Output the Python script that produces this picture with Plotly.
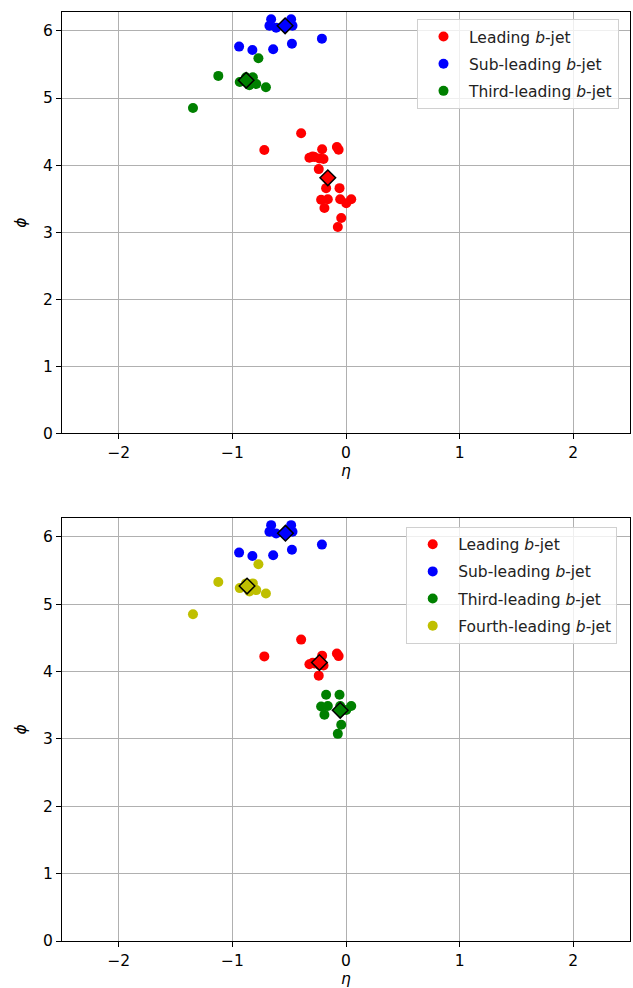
"""Eta-phi positions of b-jets: three-jet assignment (top) vs four-jet (bottom)."""

import plotly.graph_objects as go

# upper cluster (leading b-jet in both panels)
lead_eta = [-0.395, -0.719, -0.21, -0.08, -0.065, -0.322, -0.278, -0.234, -0.198, -0.293, -0.24]
lead_phi = [4.475, 4.226, 4.237, 4.27, 4.23, 4.11, 4.12, 4.10, 4.09, 4.13, 3.94]

# lower red cluster (part of the leading jet on top, third-leading on the bottom)
low_eta = [-0.175, -0.057, -0.219, -0.16, -0.051, 0.046, 0.002, -0.19, -0.042, -0.072]
low_phi = [3.656, 3.656, 3.482, 3.49, 3.49, 3.49, 3.43, 3.36, 3.21, 3.076]

sub_eta = [-0.659, -0.674, -0.483, -0.471, -0.615, -0.212, -0.941, -0.824, -0.641, -0.476]
sub_phi = [6.175, 6.077, 6.175, 6.077, 6.05, 5.886, 5.767, 5.717, 5.727, 5.81]

# third-leading on top, fourth-leading on the bottom
far_eta = [-0.771, -1.124, -1.347, -0.935, -0.88, -0.82, -0.79, -0.85, -0.705]
far_phi = [5.593, 5.33, 4.851, 5.24, 5.31, 5.31, 5.21, 5.19, 5.16]

# diamond markers (cluster centres)
top_ctr_eta = [-0.16, -0.536, -0.879]
top_ctr_phi = [3.81, 6.077, 5.265]
bot_ctr_eta = [-0.234, -0.533, -0.051, -0.871]
bot_ctr_phi = [4.134, 6.055, 3.425, 5.27]

RED, BLUE, GREEN, YELLOW = "#ff0000", "#0000ff", "#008000", "#bfbf00"
FONT = "DejaVu Sans"

fig = go.Figure()


def dots(x, y, color, name, xa, ya, legend):
    fig.add_trace(go.Scatter(
        x=x, y=y, mode="markers", name=name, xaxis=xa, yaxis=ya,
        legend=legend, legendgroup=f"{legend}-{name}",
        marker=dict(color=color, size=10, line=dict(width=0)),
    ))


def diamonds(x, y, colors, xa, ya):
    fig.add_trace(go.Scatter(
        x=x, y=y, mode="markers", xaxis=xa, yaxis=ya, showlegend=False,
        marker=dict(symbol="diamond", color=colors, size=12,
                    line=dict(color="black", width=1.5)),
    ))


# top panel
dots(lead_eta + low_eta, lead_phi + low_phi, RED, "Leading <i>b</i>-jet", "x", "y", "legend")
dots(sub_eta, sub_phi, BLUE, "Sub-leading <i>b</i>-jet", "x", "y", "legend")
dots(far_eta, far_phi, GREEN, "Third-leading <i>b</i>-jet", "x", "y", "legend")
diamonds(top_ctr_eta, top_ctr_phi, [RED, BLUE, GREEN], "x", "y")

# bottom panel
dots(lead_eta, lead_phi, RED, "Leading <i>b</i>-jet", "x2", "y2", "legend2")
dots(sub_eta, sub_phi, BLUE, "Sub-leading <i>b</i>-jet", "x2", "y2", "legend2")
dots(low_eta, low_phi, GREEN, "Third-leading <i>b</i>-jet", "x2", "y2", "legend2")
dots(far_eta, far_phi, YELLOW, "Fourth-leading <i>b</i>-jet", "x2", "y2", "legend2")
diamonds(bot_ctr_eta, bot_ctr_phi, [RED, BLUE, GREEN, YELLOW], "x2", "y2")

axis_common = dict(
    showline=True, mirror=True, linecolor="black", linewidth=1.2,
    showgrid=True, gridcolor="#b0b0b0", gridwidth=1, zeroline=False,
    ticks="outside", ticklen=5, tickcolor="black",
    tickfont=dict(family=FONT, size=15.5, color="black"),
)
xax = dict(axis_common, range=[-2.5, 2.5], tickvals=[-2, -1, 0, 1, 2],
           ticktext=["\u22122", "\u22121", "0", "1", "2"],
           title=dict(text="<i>\u03b7</i>", font=dict(family=FONT, size=15.5), standoff=4))
yax = dict(axis_common, range=[0, 6.2832], tickvals=[0, 1, 2, 3, 4, 5, 6],
           title=dict(text="<i>\u03d5</i>", font=dict(family=FONT, size=15.5), standoff=12))

legend_common = dict(
    bgcolor="rgba(255,255,255,0.8)", bordercolor="#d0d0d0", borderwidth=1,
    font=dict(family=FONT, size=15.5, color="#222222"),
    xanchor="left", yanchor="top", itemwidth=41, tracegroupgap=4,
)

fig.update_layout(
    width=633, height=988,
    margin=dict(l=62, r=3, t=12, b=47),
    paper_bgcolor="white", plot_bgcolor="white",
    font=dict(family=FONT, size=15.5, color="black"),
    xaxis=dict(xax, domain=[0, 1], anchor="y"),
    yaxis=dict(yax, domain=[0.5465, 1], anchor="x"),
    xaxis2=dict(xax, domain=[0, 1], anchor="y2"),
    yaxis2=dict(yax, domain=[0, 0.4555], anchor="x2"),
    legend=dict(legend_common, x=0.625, y=0.9925),
    legend2=dict(legend_common, x=0.606, y=0.446),
)

# drop the default page margin so the figure sits at the window's corner
fig.write_html(
    "out.html",
    config={"displayModeBar": False},
    post_script="document.body.style.margin='0';document.body.style.overflow='hidden';",
)
